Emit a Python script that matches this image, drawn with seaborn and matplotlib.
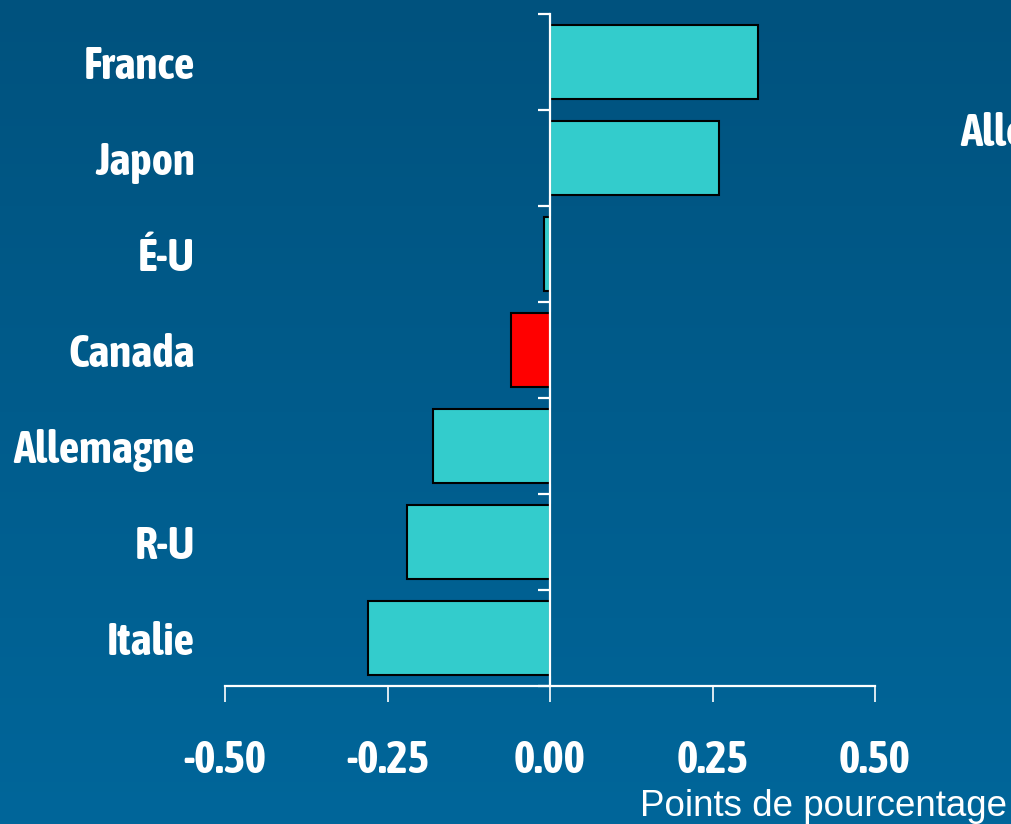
import numpy as np
import pandas as pd
import matplotlib
matplotlib.use("Agg")
import matplotlib.pyplot as plt
from matplotlib import font_manager as fm
from matplotlib.ticker import FixedLocator
import seaborn as sns

# Data: change in percentage points by country
countries = ["France", "Japon", "É-U", "Canada", "Allemagne", "R-U", "Italie"]
values = [0.32, 0.26, -0.01, -0.06, -0.18, -0.22, -0.28]
x_ticks = [-0.50, -0.25, 0.00, 0.25, 0.50]
x_tick_labels = ["-0.50", "-0.25", "0.00", "0.25", "0.50"]
highlight = "Canada"

sns.set_theme(style="white")


def _is_bold(w):
    if isinstance(w, str):
        return w.lower() in ("bold", "heavy", "black", "extra bold", "semibold", "demibold")
    return w >= 600


# Prefer a condensed face that has a bold weight for the labels
bold_narrow = sorted({f.name for f in fm.fontManager.ttflist
                      if ("Narrow" in f.name or "Condensed" in f.name) and _is_bold(f.weight)})
preferred = [n for n in bold_narrow if "Liberation" in n or "Arial" in n] + bold_narrow
bold_family = preferred[:1] + ["Liberation Sans", "DejaVu Sans"]
condensed = bool(preferred)
plt.rcParams["font.family"] = ["Liberation Sans", "DejaVu Sans"]

BAR = "#33CCCC"
HIGHLIGHT = "#FF0000"
WHITE = "white"

df = pd.DataFrame({"pays": countries, "valeur": values})
palette = {c: (HIGHLIGHT if c == highlight else BAR) for c in countries}

fig = plt.figure(figsize=(10.11, 8.24), dpi=100)

# Vertical blue gradient background
bg = fig.add_axes([0, 0, 1, 1], zorder=-10)
grad = np.linspace(0, 1, 256).reshape(-1, 1)
top = np.array([0x00, 0x52, 0x7E]) / 255
bottom = np.array([0x00, 0x66, 0x9A]) / 255
img = top + (bottom - top) * grad[..., None]
bg.imshow(img, aspect="auto", extent=[0, 1, 0, 1], origin="upper")
bg.set_axis_off()

ax = fig.add_axes([225 / 1011, 138 / 824, 650 / 1011, 672 / 824])
ax.patch.set_alpha(0)

sns.barplot(data=df, x="valeur", y="pays", hue="pays", palette=palette,
            order=countries, hue_order=countries, orient="h", width=0.77,
            edgecolor="black", linewidth=1.5, saturation=1, legend=False, ax=ax)

ax.set_xlim(-0.5, 0.5)
ax.set_ylim(len(countries) - 0.5, -0.5)

# Zero line carried by the right spine, with separators between categories
for s in ["top", "left"]:
    ax.spines[s].set_visible(False)
ax.spines["right"].set_position(("data", 0))
ax.spines["right"].set_color(WHITE)
ax.spines["right"].set_linewidth(1.6)
ax.spines["bottom"].set_color(WHITE)
ax.spines["bottom"].set_linewidth(1.6)

label_size = 32.5 if condensed else 26

ax.yaxis.set_ticks_position("both")
ax.set_yticks(range(len(countries)))
ax.set_yticklabels(countries)
ax.yaxis.set_minor_locator(FixedLocator(np.arange(-0.5, len(countries), 1.0)))
ax.tick_params(axis="y", which="major", left=True, right=False, length=0,
               pad=21.6, labelsize=label_size, labelcolor=WHITE)
ax.tick_params(axis="y", which="minor", left=False, right=True, direction="in",
               length=9, width=1.6, color=WHITE)
for lab in ax.get_yticklabels():
    lab.set_family(bold_family)
    lab.set_fontweight("bold")

ax.set_xticks(x_ticks)
ax.set_xticklabels(x_tick_labels)
ax.tick_params(axis="x", which="major", bottom=True, direction="out", length=11.5,
               width=1.2, color=WHITE, pad=26.5, labelsize=label_size, labelcolor=WHITE)
for lab in ax.get_xticklabels():
    lab.set_family(bold_family)
    lab.set_fontweight("bold")

ax.set_ylabel("")
ax.set_xlabel("Points de pourcentage", color=WHITE, fontsize=26.5, va="center")
ax.xaxis.set_label_coords(0.9215, -0.18)

fig.text(960 / 1011, 1 - 133 / 824, "Allocation", color=WHITE, fontsize=label_size,
         fontweight="bold", family=bold_family, ha="left", va="center")

fig.savefig("out.png", dpi=100)
